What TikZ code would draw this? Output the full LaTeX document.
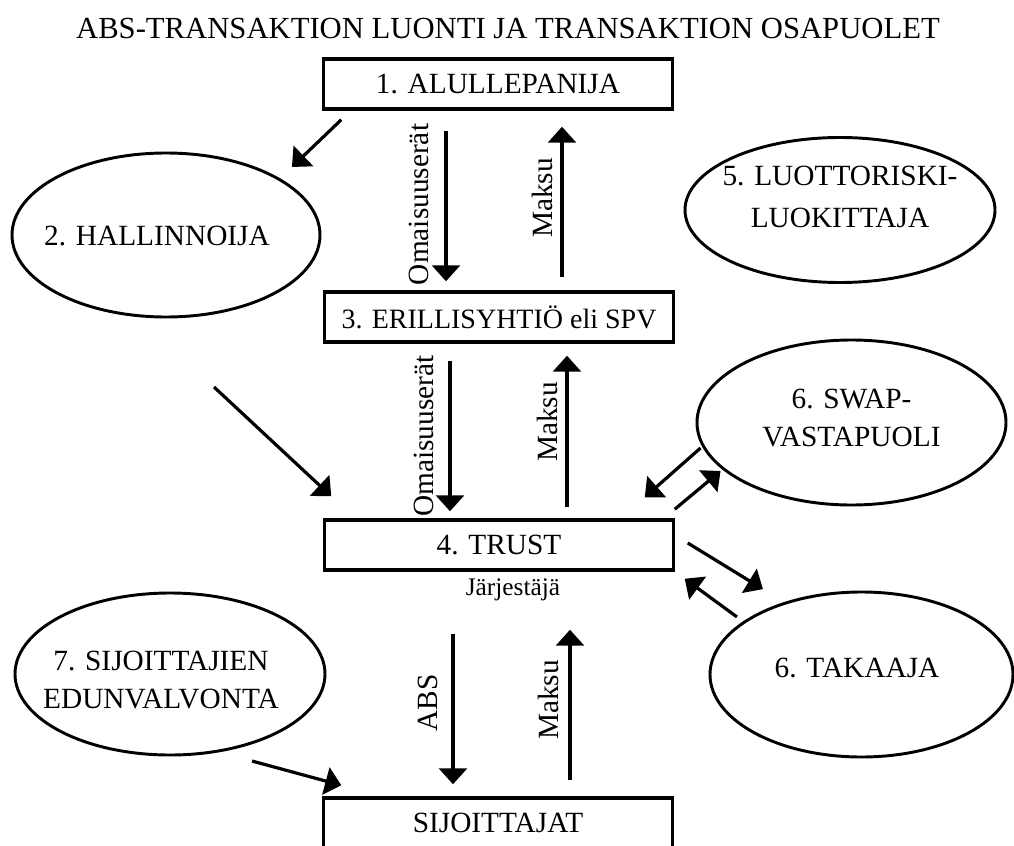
\documentclass[tikz,border=0pt]{standalone}
\usepackage{fontspec}
\setmainfont{Liberation Serif}
\usetikzlibrary{arrows.meta,shapes.geometric,calc}
\tikzset{
    box/.style  = {draw, line width=2.6pt, minimum width=261.75pt, minimum height=37.5pt, inner sep=0pt, font=\fontsize{22}{28}\selectfont},
    oval/.style = {draw, ellipse, line width=2.2pt, inner sep=0pt},
    txt/.style  = {align=center, font=\fontsize{22}{29}\selectfont},
    flow/.style = {-{Triangle[width=21pt,length=12pt]}, line width=2.4pt},
    lbl/.style  = {rotate=90, anchor=base, inner sep=0pt, font=\fontsize{22}{28}\selectfont}
}

\begin{document}
\begin{tikzpicture}[line join=miter, x=0.75pt, y=-0.75pt]
    \useasboundingbox (0,0) rectangle (1014,846);

    \node (title) at (508,28) [font=\fontsize{23}{28}\selectfont] {ABS-TRANSAKTION LUONTI JA TRANSAKTION OSAPUOLET};

    % the chain in the middle
    \node[box] (alul)  at (498,84)  {1. ALULLEPANIJA};
    \node[box, font=\fontsize{21}{28}\selectfont] (spv) at (499,317) {3. ERILLISYHTIÖ eli SPV};
    \node[box] (trust) at (499,545) {4. TRUST};
    \node (jarj) at (513,590) [font=\fontsize{19}{24}\selectfont] {Järjestäjä};
    \node[box] (sij)   at (498,823) {SIJOITTAJAT};

    % the other parties
    \node[oval, minimum width=231pt,   minimum height=123pt]    (hall) at (166,235)     {};
    \node[oval, minimum width=232.5pt, minimum height=108.75pt] (luot) at (840,210)     {};
    \node[oval, minimum width=231.75pt,minimum height=123.75pt] (swap) at (851.5,422.5) {};
    \node[oval, minimum width=227.25pt,minimum height=123.75pt] (tak)  at (861.5,674.5) {};
    \node[oval, minimum width=232.5pt, minimum height=121.5pt]  (edun) at (170,674)     {};

    \node[txt] (hallt) at (157,236) {2. HALLINNOIJA};
    \node[txt, font=\fontsize{22}{31}\selectfont] (luott) at (840,197) {5. LUOTTORISKI-\\LUOKITTAJA};
    \node[txt] (swapt) at (851.5,418) {6. SWAP-\\VASTAPUOLI};
    \node[txt] (takt)  at (857,668) {6. TAKAAJA};
    \node[txt] (edunt) at (161,680) {7. SIJOITTAJIEN\\EDUNVALVONTA};

    % flows between the boxes
    \draw[flow] ($(alul.south)+(-52,20)$) -- ($(spv.north)+(-53,-9)$);
    \draw[flow] ($(spv.north)+(63,-13)$) -- ($(alul.south)+(64,16)$);
    \draw[flow] ($(spv.south)+(-49,17)$) -- ($(trust.north)+(-49,-7)$);
    \draw[flow] ($(trust.north)+(68,-11)$) -- ($(spv.south)+(68,12)$);
    \draw[flow] ($(trust.south)+(-46,62)$) -- ($(sij.north)+(-45,-12)$);
    \draw[flow] ($(sij.north)+(72,-16)$) -- ($(trust.south)+(71,58)$);

    \node[lbl] (om1) at (428,204.5) {Omaisuuserät};
    \node[lbl] (ma1) at (552,198)   {Maksu};
    \node[lbl] (om2) at (433,436)   {Omaisuuserät};
    \node[lbl] (ma2) at (557,422)   {Maksu};
    \node[lbl] (abs) at (437,703)   {ABS};
    \node[lbl] (ma3) at (558,700)   {Maksu};

    % flows to and from the parties
    \draw[flow] ($(alul.south west)+(19.5,9)$) -- ($(hall.north east)+(16,-9)$);
    \draw[flow] ($(hall)+(48,152)$) -- ($(trust.north west)+(8.5,-22)$);
    \draw[flow] ($(swap.west)+(5,25.5)$) -- ($(trust.north east)+(-30.5,-21)$);
    \draw[flow] ($(trust.north east)+(-0.5,-9)$) -- ($(swap.west)+(25,48.5)$);
    \draw[flow] ($(trust.east)+(12.5,-2)$) -- ($(tak.north west)+(9.6,-26)$);
    \draw[flow] ($(tak.north west)+(-16.4,1.8)$) -- ($(trust.south east)+(9.5,7)$);
    \draw[flow] ($(edun.south east)+(-28.6,28.7)$) -- ($(sij.north west)+(19.5,-11)$);
\end{tikzpicture}
\end{document}
